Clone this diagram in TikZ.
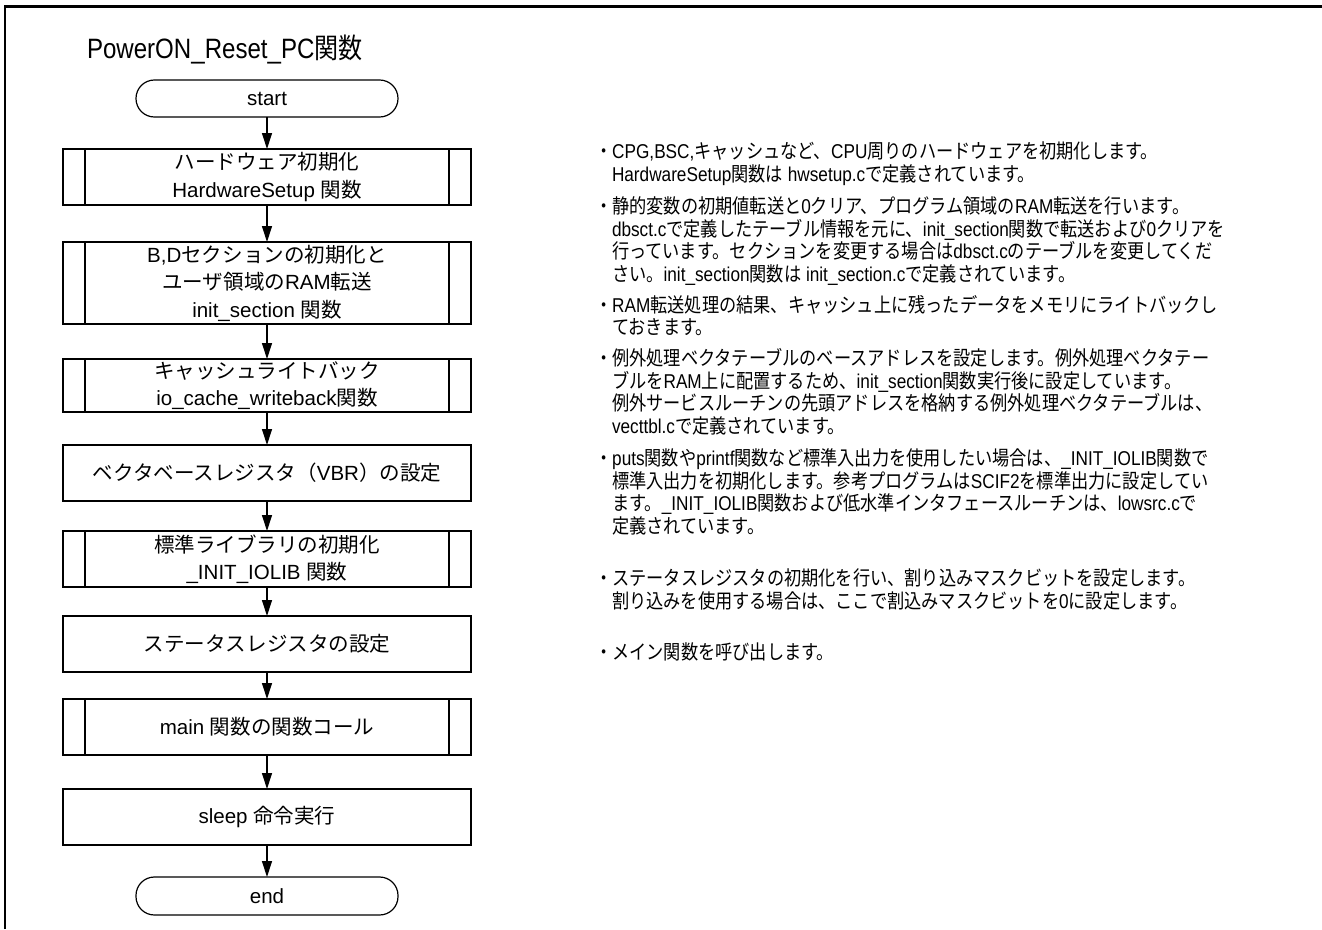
\documentclass[tikz,border=0pt]{standalone}
\usepackage{fontspec}
\usetikzlibrary{arrows.meta}
\setmainfont{Liberation Sans}
\newfontfamily\cjkfont{Noto Sans CJK JP}
\newfontfamily\sidelatin[FakeStretch=0.86]{Liberation Sans}
\newfontfamily\sidecjk[FakeStretch=0.86]{Noto Sans CJK JP}
\newfontfamily\titlelatin[FakeStretch=0.86]{Liberation Sans}
\newfontfamily\titlecjk[FakeStretch=0.86]{Noto Sans CJK JP}
\def\curcjk{\cjkfont}
\def\curlat{\rmfamily}
\XeTeXinterchartokenstate=1
\newXeTeXintercharclass\jclass
\newcount\jcnt
\def\setjrange#1#2{\jcnt=#1\relax\loop\XeTeXcharclass\jcnt=\jclass\relax\ifnum\jcnt<#2\advance\jcnt by 1\relax\repeat}
\setjrange{"3000}{"30FF}
\setjrange{"4E00}{"9FFF}
\setjrange{"FF00}{"FFEF}
\XeTeXinterchartoks 0 \jclass = {\curcjk}
\XeTeXinterchartoks 4095 \jclass = {\curcjk}
\XeTeXinterchartoks \jclass 0 = {\curlat}
\XeTeXinterchartoks \jclass 4095 = {\curlat}
\begin{document}
\begin{tikzpicture}[x=0.75pt,y=-0.75pt,
  every node/.style={inner sep=0pt, outer sep=0pt},
  boxtxt/.style={font=\fontsize{15.4pt}{20.6pt}\selectfont, align=center},
  plainbox/.style={boxtxt, draw, line width=0.9pt, minimum width=306pt, minimum height=42pt},
  predef/.style={plainbox},
  term/.style={boxtxt, draw, line width=0.9pt, minimum width=196.5pt, minimum height=27.75pt, rounded corners=13.8pt},
  flow/.style={line width=0.9pt, -{Triangle[length=12pt,width=7.5pt]}},
  side/.style={font=\fontsize{15pt}{17pt}\selectfont\def\curcjk{\sidecjk}\def\curlat{\sidelatin}\sidelatin, anchor=base west},
  frame/.style={line width=2pt}]
\useasboundingbox (0,0) rectangle (1322,929);
\draw[frame] (5,929) -- (5,6.5) -- (1322,6.5);
\node[anchor=base west, font=\fontsize{21pt}{25pt}\selectfont\def\curcjk{\titlecjk}\def\curlat{\titlelatin}\titlelatin] (title) at (87,58) {PowerON\_Reset\_PC関数};

\node[term] (start) at (267,98.5) {start};
\node[predef, minimum height=42pt] (b1) at (267,177) {ハードウェア初期化\\HardwareSetup 関数};
\node[predef, minimum height=61.5pt] (b2) at (267,283) {B,Dセクションの初期化と\\ユーザ領域のRAM転送\\init\_section 関数};
\node[predef, minimum height=39.75pt] (b3) at (267,385.5) {キャッシュライトバック\\io\_cache\_writeback関数};
\node[plainbox] (b4) at (267,473) {ベクタベースレジスタ（VBR）の設定};
\node[predef] (b5) at (267,559) {標準ライブラリの初期化\\\_INIT\_IOLIB 関数};
\node[plainbox] (b6) at (267,644) {ステータスレジスタの設定};
\node[predef] (b7) at (267,727) {main 関数の関数コール};
\node[plainbox] (b8) at (267,817) {sleep 命令実行};
\node[term, minimum height=28.5pt] (end) at (267,896) {end};

\foreach \n in {b1,b2,b3,b5,b7} {
  \draw[line width=0.9pt] ([xshift=16.5pt]\n.north west) -- ([xshift=16.5pt]\n.south west);
  \draw[line width=0.9pt] ([xshift=-16.5pt]\n.north east) -- ([xshift=-16.5pt]\n.south east);
}

\draw[flow] (start.south) -- (b1.north);
\draw[flow] (b1.south) -- (b2.north);
\draw[flow] (b2.south) -- (b3.north);
\draw[flow] (b3.south) -- (b4.north);
\draw[flow] (b4.south) -- (b5.north);
\draw[flow] (b5.south) -- (b6.north);
\draw[flow] (b6.south) -- (b7.north);
\draw[flow] (b7.south) -- (b8.north);
\draw[flow] (b8.south) -- (end.north);

\node[side] (l1) at (595,158.6) {・CPG,BSC,キャッシュなど、CPU周りのハードウェアを初期化します。};
\node[side] (l2) at (612,181.1) {HardwareSetup関数は hwsetup.cで定義されています。};
\node[side] (l3) at (595,213.6) {・静的変数の初期値転送と0クリア、プログラム領域のRAM転送を行います。};
\node[side] (l4) at (612,236.1) {dbsct.cで定義したテーブル情報を元に、init\_section関数で転送および0クリアを};
\node[side] (l5) at (612,258.6) {行っています。セクションを変更する場合はdbsct.cのテーブルを変更してくだ};
\node[side] (l6) at (612,281.1) {さい。init\_section関数は init\_section.cで定義されています。};
\node[side] (l7) at (595,312.1) {・RAM転送処理の結果、キャッシュ上に残ったデータをメモリにライトバックし};
\node[side] (l8) at (612,334.6) {ておきます。};
\node[side] (l9) at (595,365.6) {・例外処理ベクタテーブルのベースアドレスを設定します。例外処理ベクタテー};
\node[side] (l10) at (612,388.1) {ブルをRAM上に配置するため、init\_section関数実行後に設定しています。};
\node[side] (l11) at (612,410.6) {例外サービスルーチンの先頭アドレスを格納する例外処理ベクタテーブルは、};
\node[side] (l12) at (612,433.1) {vecttbl.cで定義されています。};
\node[side] (l13) at (595,465.6) {・puts関数やprintf関数など標準入出力を使用したい場合は、\_INIT\_IOLIB関数で};
\node[side] (l14) at (612,488.1) {標準入出力を初期化します。参考プログラムはSCIF2を標準出力に設定してい};
\node[side] (l15) at (612,510.6) {ます。\_INIT\_IOLIB関数および低水準インタフェースルーチンは、lowsrc.cで};
\node[side] (l16) at (612,533.1) {定義されています。};
\node[side] (l17) at (595,585.6) {・ステータスレジスタの初期化を行い、割り込みマスクビットを設定します。};
\node[side] (l18) at (612,608.1) {割り込みを使用する場合は、ここで割込みマスクビットを0に設定します。};
\node[side] (l19) at (595,659.6) {・メイン関数を呼び出します。};
\end{tikzpicture}
\end{document}
